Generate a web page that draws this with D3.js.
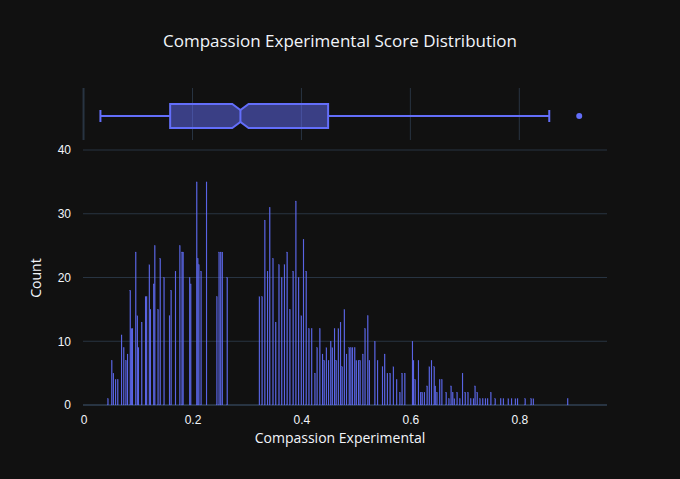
<!DOCTYPE html>
<html><head><meta charset="utf-8">
<script src="https://cdn.jsdelivr.net/npm/d3@7"></script>
<style>body{margin:0;background:#111111}svg{font-family:"Open Sans",Verdana,sans-serif}</style>
</head><body><svg id="chart" width="680" height="479"></svg>
<script>
// histogram bins (left edge) and counts
const binStarts = [.044,.051,.054,.058,.062,.069,.073,.077,.080,.085,.087,.089,.095,.098,.100,.106,.113,.115,.120,.122,.128,.130,.136,.140,.147,.157,.160,.168,.176,.180,.182,.194,.196,.207,.209,.211,.215,.225,.244,.248,.251,.254,.263,
  .322,.327,.332,.337,.341,.347,.352,.358,.363,.368,.373,.378,.384,.389,.394,.399,.403,.408,.413,.418,.424,.428,.433,.438,.441,.445,.449,.453,.456,.460,.463,.467,.471,.474,.478,.482,.487,.490,.493,.497,.500,.504,.507,.512,.516,.521,.524,.534,.539,.548,.552,.557,.562,.568,.574,.580,.584,
  .589,.603,.605,.608,.614,.618,.621,.625,.630,.634,.638,.643,.645,.648,.653,.657,.665,.670,.674,.677,.680,.685,.690,.695,.700,.705,.710,.715,.718,.722,.727,.732,.737,.741,.747,.755,.765,.770,.779,.785,.792,.796,.810,.821,.825,.888];
const counts = [1,7,5,4,4,11,9,7,8,18,12,12,24,14,9,13,17,17,22,15,19,25,15,23,20,14,18,21,25,24,24,20,19,35,23,22,21,35,17,24,24,24,20,
  17,17,29,21,31,23,13,22,20,22,24,15,21,32,20,14,26,21,12,12,5,9,12,8,7,9,7,10,9,12,7,12,13,6,15,8,9,9,9,9,7,7,7,8,12,14,7,10,7,6,8,5,5,6,4,2,5,
  5,10,7,4,7,2,2,2,3,6,7,6,3,2,4,4,2,1,3,2,1,2,1,5,2,2,1,1,3,2,1,1,1,1,2,1,1,1,1,1,1,1,1,1,1,1];
const binWidth = 0.002;
// box plot stats
const box = {lowerFence: .031, q1: .159, median: .288, q3: .449, upperFence: .855, notch: .015};
const outliers = [.91];
const xTicks = [0, .2, .4, .6, .8];
const yTicks = [0, 10, 20, 30, 40];

const svg = d3.select("#chart");
const grid = "#283442", fg = "#f2f5fa", col = "#636efa";
const x = d3.scaleLinear().domain([-0.001, 0.961]).range([83, 607]);
const y = d3.scaleLinear().domain([0, 40]).range([405, 150]);

svg.append("text").attr("x", 340).attr("y", 47).attr("text-anchor", "middle")
  .attr("fill", fg).style("font-size", "17px").text("Compassion Experimental Score Distribution");

// grid lines
svg.append("g").selectAll("line").data(yTicks).enter().append("line")
  .attr("x1", 83).attr("x2", 607).attr("y1", d => y(d)).attr("y2", d => y(d))
  .attr("stroke", grid).attr("stroke-width", d => d === 0 ? 2 : 1);
svg.append("g").selectAll("line").data(xTicks).enter().append("line")
  .attr("x1", d => x(d)).attr("x2", d => x(d)).attr("y1", 88).attr("y2", 140)
  .attr("stroke", grid).attr("stroke-width", d => d === 0 ? 2 : 1);

// bars
svg.append("g").selectAll("rect").data(binStarts).enter().append("rect")
  .attr("x", d => x(d)).attr("width", x(binWidth) - x(0) - 0.2)
  .attr("y", (d, i) => y(counts[i])).attr("height", (d, i) => y(0) - y(counts[i]))
  .attr("fill", col).attr("stroke", col).attr("stroke-opacity", 0.6).attr("stroke-width", 0.3);

// box plot
const by = 116, bh = 12, nh = 6;
const b = svg.append("g");
const xs = [box.q1, box.median - box.notch, box.median, box.median + box.notch, box.q3];
const pts = [[x(box.q1), by - bh], [x(box.median - box.notch), by - bh], [x(box.median), by - nh], [x(box.median + box.notch), by - bh],
  [x(box.q3), by - bh], [x(box.q3), by + bh], [x(box.median + box.notch), by + bh], [x(box.median), by + nh],
  [x(box.median - box.notch), by + bh], [x(box.q1), by + bh]];
b.append("polygon").attr("points", pts.map(p => p.join(",")).join(" "))
  .attr("fill", col).attr("fill-opacity", 0.5).attr("stroke", col).attr("stroke-width", 2);
b.append("line").attr("x1", x(box.median)).attr("x2", x(box.median)).attr("y1", by - nh).attr("y2", by + nh).attr("stroke", col).attr("stroke-width", 2);
[[box.lowerFence, box.q1], [box.q3, box.upperFence]].forEach(s =>
  b.append("line").attr("x1", x(s[0])).attr("x2", x(s[1])).attr("y1", by).attr("y2", by).attr("stroke", col).attr("stroke-width", 2));
[box.lowerFence, box.upperFence].forEach(v =>
  b.append("line").attr("x1", x(v)).attr("x2", x(v)).attr("y1", by - 6).attr("y2", by + 6).attr("stroke", col).attr("stroke-width", 2));
b.selectAll("circle").data(outliers).enter().append("circle")
  .attr("cx", d => x(d)).attr("cy", by).attr("r", 3).attr("fill", col);

// axes
const xa = svg.append("g").attr("transform", "translate(0,405)")
  .call(d3.axisBottom(x).tickValues(xTicks).tickFormat(d => d === 0 ? "0" : d3.format(".1f")(d)).tickSize(0).tickPadding(10));
const ya = svg.append("g").attr("transform", "translate(83,0)")
  .call(d3.axisLeft(y).tickValues(yTicks).tickSize(0).tickPadding(12));
[xa, ya].forEach(a => { a.select(".domain").remove(); a.selectAll("text").attr("fill", fg).style("font-size", "12px"); });

svg.append("text").attr("x", 340).attr("y", 443).attr("text-anchor", "middle")
  .attr("fill", fg).style("font-size", "14px").text("Compassion Experimental");
svg.append("text").attr("transform", "translate(41,278) rotate(-90)").attr("text-anchor", "middle")
  .attr("fill", fg).style("font-size", "14px").text("Count");
</script></body></html>
